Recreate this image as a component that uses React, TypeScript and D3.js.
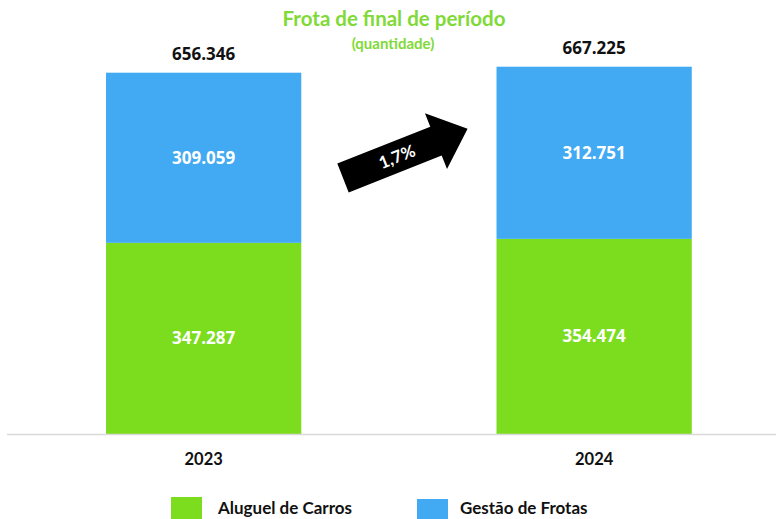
import React from "react";
import * as d3 from "d3";

const categories = ["2023", "2024"];
const aluguelValues = [347287, 354474];
const gestaoValues = [309059, 312751];
const totalValues = [656346, 667225];
const seriesNames = ["Aluguel de Carros", "Gestão de Frotas"];
const growthLabel = "1,7%";
const titleText = "Frota de final de período";
const subtitleText = "(quantidade)";

const W = 776;
const H = 519;
const GREEN = "#7CDD1F";
const BLUE = "#42A9F3";
const TITLE_GREEN = "#7FDA38";
const NUM_FONT = "'Open Sans', 'DejaVu Sans', sans-serif";
const TXT_FONT = "Lato, 'Open Sans', sans-serif";

const fmt = (v: number) => d3.format(",")(v).replace(/,/g, ".");

export default function App() {
  const x = d3
    .scaleBand<string>()
    .domain(categories)
    .range([8.4, 789.4])
    .paddingInner(0.5)
    .paddingOuter(0.25);
  const y = d3.scaleLinear().domain([0, 656346]).range([434, 72.7]);

  const stacked = d3
    .stack<{ cat: string; a: number; g: number }>()
    .keys(["a", "g"])(
    categories.map((c, i) => ({ cat: c, a: aluguelValues[i], g: gestaoValues[i] }))
  );
  const colors = [GREEN, BLUE];
  const bw = x.bandwidth();

  // arrow in local coords
  const arrowPath = "M0,-15.5 L100,-15.5 L100,-30 L134,0 L100,30 L100,15.5 L0,15.5 Z";

  return (
    <svg width={W} height={H} style={{ position: "absolute", left: 0, top: 0, background: "#fff" }}>
      <rect x={0} y={0} width={W} height={H} fill="#fff" />
      <text x={394} y={26} textAnchor="middle" fill={TITLE_GREEN} fontFamily={TXT_FONT} fontWeight={700} fontSize={20.5}>
        {titleText}
      </text>
      <text x={393} y={49} textAnchor="middle" fill={TITLE_GREEN} fontFamily={TXT_FONT} fontWeight={700} fontSize={15}>
        {subtitleText}
      </text>

      {stacked.map((layer, li) =>
        layer.map((d, i) => {
          const cat = categories[i];
          const x0 = x(cat)!;
          const y0 = y(d[1]);
          const y1 = y(d[0]);
          return (
            <g key={`${li}-${i}`}>
              <rect x={x0} y={y0} width={bw} height={y1 - y0} fill={colors[li]} />
              <text
                x={x0 + bw / 2}
                y={(y0 + y1) / 2 + 6}
                textAnchor="middle"
                fill="#fff"
                fontFamily={NUM_FONT}
                fontWeight={700}
                fontSize={17}
              >
                {fmt(d[1] - d[0])}
              </text>
            </g>
          );
        })
      )}

      {categories.map((c, i) => (
        <g key={c}>
          <text
            x={x(c)! + bw / 2}
            y={y(totalValues[i]) - 13}
            textAnchor="middle"
            fill="#111"
            fontFamily={NUM_FONT}
            fontWeight={700}
            fontSize={17}
          >
            {fmt(totalValues[i])}
          </text>
          <text
            x={x(c)! + bw / 2}
            y={465}
            textAnchor="middle"
            fill="#111"
            fontFamily={TXT_FONT}
            fontWeight={700}
            fontSize={16.5}
          >
            {c}
          </text>
        </g>
      ))}

      <line x1={7} x2={776} y1={434.5} y2={434.5} stroke="#D9D9D9" strokeWidth={1.5} />

      <g transform="translate(343,178) rotate(-21.6)">
        <path d={arrowPath} fill="#000" />
        <text x={58} y={6} textAnchor="middle" fill="#fff" fontFamily={TXT_FONT} fontWeight={700} fontSize={17}>
          {growthLabel}
        </text>
      </g>

      <rect x={171} y={497} width={31} height={22} fill={GREEN} />
      <text x={218} y={514} fill="#111" fontFamily={TXT_FONT} fontWeight={700} fontSize={17}>
        {seriesNames[0]}
      </text>
      <rect x={417} y={499} width={31} height={20} fill={BLUE} />
      <text x={460} y={514} fill="#111" fontFamily={TXT_FONT} fontWeight={700} fontSize={17}>
        {seriesNames[1]}
      </text>
    </svg>
  );
}
